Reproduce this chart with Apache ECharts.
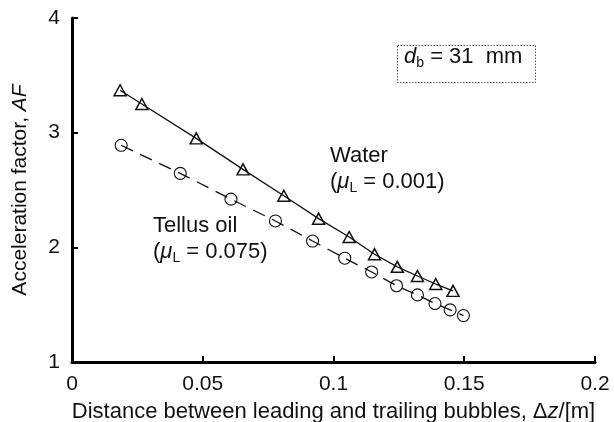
<!DOCTYPE html>
<html>
<head>
<meta charset="utf-8">
<title>Acceleration factor vs. bubble distance</title>
<script src="https://cdn.jsdelivr.net/npm/echarts@6/dist/echarts.min.js"></script>
<style>
  html, body { margin: 0; padding: 0; background: #fff; }
  #chart { width: 614px; height: 422px; }
</style>
</head>
<body>
<div id="chart"></div>
<script>
// Water (mu_L = 0.001): distance between bubbles [m] and acceleration factor
const waterX = [0.0184, 0.0267, 0.0475, 0.0654, 0.0810, 0.0943, 0.1060, 0.1157, 0.1244, 0.1321, 0.1391, 0.1457];
const waterY = [3.37, 3.25, 2.95, 2.68, 2.45, 2.25, 2.09, 1.94, 1.83, 1.75, 1.68, 1.62];

// Tellus oil (mu_L = 0.075)
const oilX = [0.0188, 0.0414, 0.0608, 0.0778, 0.0920, 0.1043, 0.1146, 0.1241, 0.1321, 0.1388, 0.1446, 0.1497];
const oilY = [2.89, 2.645, 2.42, 2.23, 2.055, 1.905, 1.785, 1.665, 1.585, 1.51, 1.455, 1.405];

// Axis ranges and tick spacing
const xRange = [0, 0.2, 0.05];
const yRange = [1, 4, 1];

const FONT = '"Liberation Sans", Arial, Helvetica, sans-serif';

const pairs = (xs, ys) => xs.map((x, i) => [x, ys[i]]);

const chart = echarts.init(document.getElementById('chart'), null, { renderer: 'canvas' });

const subRich = {
  n: { fontFamily: FONT, fontSize: 22, lineHeight: 26, color: '#111' },
  i: { fontFamily: FONT, fontSize: 22, lineHeight: 26, fontStyle: 'italic', color: '#111' },
  s: { fontFamily: FONT, fontSize: 14, lineHeight: 15, verticalAlign: 'bottom', color: '#111' }
};

function label(x, y, text) {
  return {
    type: 'text',
    left: x,
    top: y,
    silent: true,
    style: { text: text, rich: subRich, font: '22px ' + FONT, fill: '#111' }
  };
}

chart.setOption({
  animation: false,
  backgroundColor: '#fff',
  grid: { left: 72, right: 19, top: 18, bottom: 60, containLabel: false, outerBoundsMode: 'none' },
  xAxis: {
    type: 'value',
    min: xRange[0], max: xRange[1], interval: xRange[2],
    name: 'Distance between leading and trailing bubbles, Δ{i|z}/[m]',
    nameLocation: 'middle',
    nameGap: 39,
    nameTextStyle: {
      fontFamily: FONT, fontSize: 22, color: '#111',
      rich: { i: { fontFamily: FONT, fontSize: 22, fontStyle: 'italic', color: '#111' } }
    },
    axisLine: { show: true, onZero: false, lineStyle: { color: '#000', width: 3 } },
    axisTick: { show: true, inside: true, length: 6, lineStyle: { color: '#000', width: 2 } },
    axisLabel: { fontFamily: FONT, fontSize: 21, color: '#111', margin: 12 },
    splitLine: { show: false }
  },
  yAxis: {
    type: 'value',
    min: yRange[0], max: yRange[1], interval: yRange[2],
    name: 'Acceleration factor, {i|AF}',
    nameLocation: 'middle',
    nameRotate: 90,
    nameGap: 41,
    nameTextStyle: {
      fontFamily: FONT, fontSize: 21, color: '#111',
      rich: { i: { fontFamily: FONT, fontSize: 21, fontStyle: 'italic', color: '#111' } }
    },
    axisLine: { show: true, onZero: false, lineStyle: { color: '#000', width: 3 } },
    axisTick: { show: true, inside: true, length: 6, lineStyle: { color: '#000', width: 2 } },
    axisLabel: { fontFamily: FONT, fontSize: 21, color: '#111', margin: 12 },
    splitLine: { show: false }
  },
  series: [
    {
      name: 'Water',
      type: 'line',
      data: pairs(waterX, waterY),
      symbol: 'triangle',
      symbolSize: [12, 11],
      lineStyle: { color: '#111', width: 1.3, type: 'solid' },
      itemStyle: { color: 'rgba(0,0,0,0)', borderColor: '#111', borderWidth: 1.5 },
      z: 3
    },
    {
      name: 'Tellus oil',
      type: 'line',
      data: pairs(oilX, oilY),
      symbol: 'circle',
      symbolSize: 12,
      lineStyle: { color: '#111', width: 1.3, type: [13, 8] },
      itemStyle: { color: 'rgba(0,0,0,0)', borderColor: '#111', borderWidth: 1.1 },
      z: 3
    }
  ],
  graphic: [
    {
      type: 'rect',
      left: 395, top: 43,
      shape: { width: 138, height: 37 },
      style: { fill: 'none', stroke: '#555', lineWidth: 1, lineDash: [1.5, 1.5] },
      silent: true
    },
    label(404, 46, '{i|d}{s|b}{n| = 31  mm}'),
    label(330, 145, '{n|Water}'),
    label(330, 171, '{n|(}{i|μ}{s|L}{n| = 0.001)}'),
    label(153, 215, '{n|Tellus oil}'),
    label(153, 241, '{n|(}{i|μ}{s|L}{n| = 0.075)}')
  ]
});
</script>
</body>
</html>
